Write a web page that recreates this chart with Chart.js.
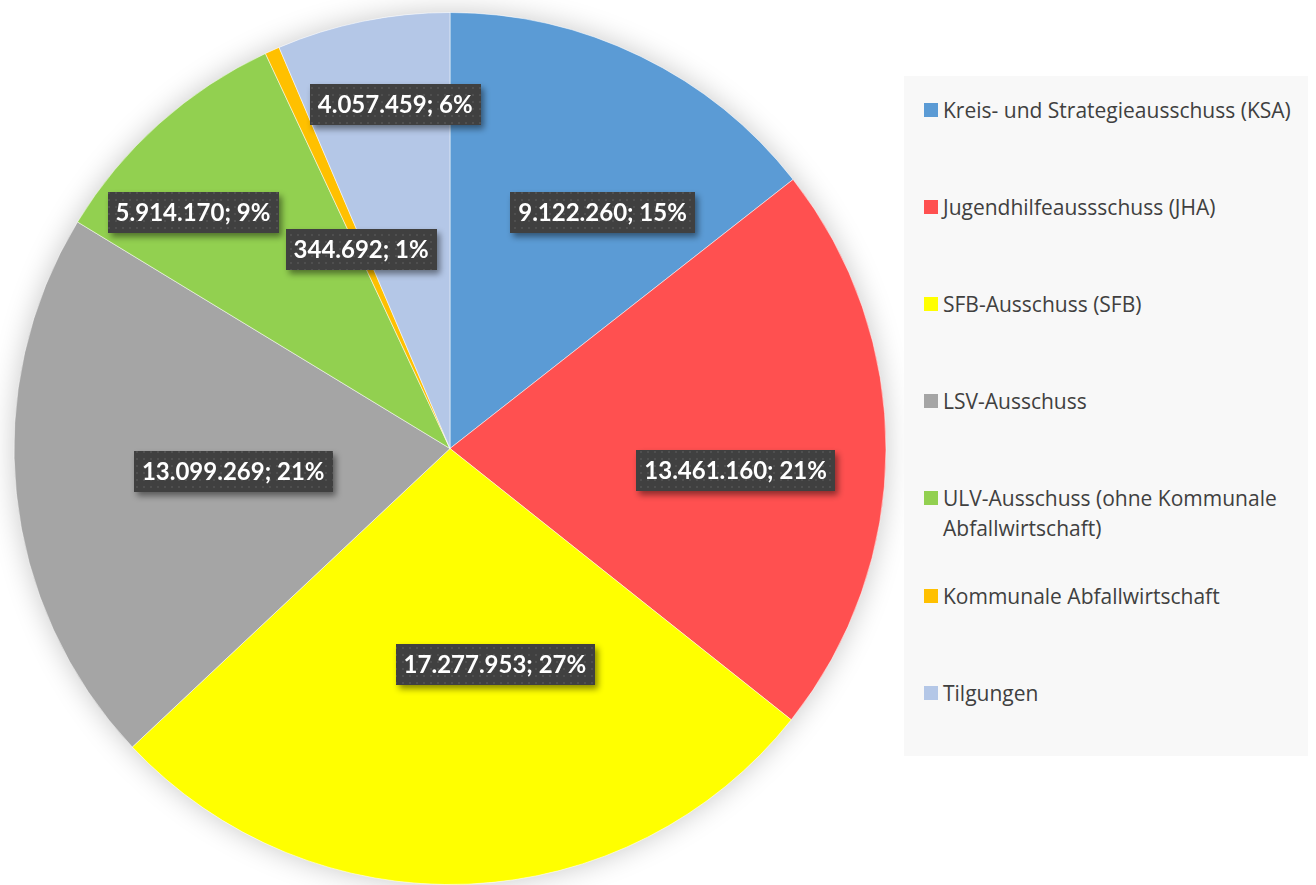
<!DOCTYPE html>
<html>
<head>
<meta charset="utf-8">
<script src="https://cdn.jsdelivr.net/npm/chart.js@4"></script>
<style>
  html, body { margin: 0; padding: 0; background: #fff; }
  #wrap { position: relative; width: 1316px; height: 885px; overflow: hidden; }
  #myChart { position: absolute; left: 0; top: 0; }
  #legend {
    position: absolute; left: 904px; top: 76px; width: 404px; height: 680px;
    background: #f8f8f8; font-family: "Open Sans", sans-serif; font-size: 21px; color: #404040;
  }
  .item { position: absolute; left: 20px; width: 384px; line-height: 30px; }
  .item .box { position: absolute; left: 0; top: 8px; width: 14px; height: 14px; }
  .item .txt { display: block; margin-left: 19px; width: 360px; }
</style>
</head>
<body>
<div id="wrap">
  <canvas id="myChart" width="1316" height="885"></canvas>
  <div id="legend"></div>
</div>
<script>
const categories = [
  "Kreis- und Strategieausschuss (KSA)",
  "Jugendhilfeaussschuss (JHA)",
  "SFB-Ausschuss (SFB)",
  "LSV-Ausschuss",
  "ULV-Ausschuss (ohne Kommunale Abfallwirtschaft)",
  "Kommunale Abfallwirtschaft",
  "Tilgungen",
];
const values = [9122260, 13461160, 17277953, 13099269, 5914170, 344692, 4057459];
// percentages as printed in the labels
const shares = [15, 21, 27, 21, 9, 1, 6];
const colors = ["#5B9BD5", "#FF5050", "#FFFF00", "#A5A5A5", "#92D050", "#FFC000", "#B4C7E7"];

// label placement: fraction of radius and angle shift (deg) from slice middle
const labelRadius = [0.645, 0.657, 0.505, 0.5, 0.8, 0.5, 0.8];
const labelShift = [6.9, 4.2, -9.4, 0, -5.6, 0, 2.5];

const fmt = (v) => String(v).replace(/\B(?=(\d{3})+(?!\d))/g, ".");

// legend
const legendEl = document.getElementById("legend");
categories.forEach((name, i) => {
  const item = document.createElement("div");
  item.className = "item";
  item.style.top = (110 + i * 97.1 - 76 - 15) + "px";
  item.innerHTML = '<span class="box" style="background:' + colors[i] + '"></span><span class="txt">' + name + "</span>";
  legendEl.appendChild(item);
});

// dotted pattern for the label boxes
const pc = document.createElement("canvas");
pc.width = 7;
pc.height = 7;
const pctx = pc.getContext("2d");
pctx.fillStyle = "#404040";
pctx.fillRect(0, 0, 7, 7);
pctx.fillStyle = "#4f4f4f";
pctx.fillRect(3, 3, 2, 2);

const pieShadow = {
  id: "pieShadow",
  beforeDatasetsDraw(chart) {
    const arc = chart.getDatasetMeta(0).data[0];
    if (!arc) return;
    const ctx = chart.ctx;
    ctx.save();
    ctx.shadowColor = "rgba(0,0,0,0.22)";
    ctx.shadowBlur = 28;
    ctx.fillStyle = "#ffffff";
    ctx.beginPath();
    ctx.arc(arc.x, arc.y, arc.outerRadius, 0, Math.PI * 2);
    ctx.fill();
    ctx.restore();
  },
};

const sliceLabels = {
  id: "sliceLabels",
  afterDatasetsDraw(chart) {
    const ctx = chart.ctx;
    const pattern = ctx.createPattern(pc, "repeat");
    chart.getDatasetMeta(0).data.forEach((arc, i) => {
      const { x, y, startAngle, endAngle, outerRadius } = arc.getProps(
        ["x", "y", "startAngle", "endAngle", "outerRadius"], true);
      const mid = (startAngle + endAngle) / 2 + labelShift[i] * Math.PI / 180;
      const px = x + Math.cos(mid) * outerRadius * labelRadius[i];
      const py = y + Math.sin(mid) * outerRadius * labelRadius[i];
      const text = fmt(values[i]) + "; " + shares[i] + "%";
      ctx.save();
      ctx.font = "bold 24px Lato";
      const w = ctx.measureText(text).width + 16;
      const h = 41;
      ctx.shadowColor = "rgba(0,0,0,0.45)";
      ctx.shadowBlur = 6;
      ctx.shadowOffsetX = 3;
      ctx.shadowOffsetY = 4;
      ctx.fillStyle = pattern;
      ctx.fillRect(Math.round(px - w / 2), Math.round(py - h / 2), Math.round(w), h);
      ctx.shadowColor = "transparent";
      ctx.fillStyle = "#ffffff";
      ctx.textAlign = "center";
      ctx.textBaseline = "middle";
      ctx.fillText(text, px, py + 1);
      ctx.restore();
    });
  },
};

const data = {
  labels: categories,
  datasets: [
    {
      data: values,
      backgroundColor: colors,
      borderColor: "rgba(255,255,255,0.5)",
      borderWidth: 1,
    },
  ],
};

const config = {
  type: "pie",
  data: data,
  options: {
    responsive: false,
    animation: false,
    layout: { padding: { left: 13, top: 12, right: 429, bottom: 0 } },
    plugins: {
      legend: { display: false },
      tooltip: { enabled: false },
    },
  },
  plugins: [pieShadow, sliceLabels],
};

let myChart = new Chart(document.getElementById("myChart"), config);
</script>
</body>
</html>
